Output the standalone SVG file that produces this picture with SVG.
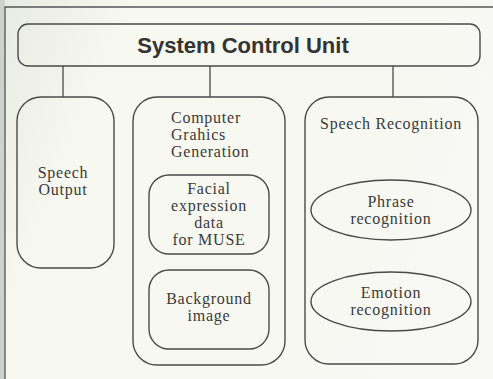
<svg xmlns="http://www.w3.org/2000/svg" width="493" height="379" viewBox="0 0 493 379">
  <defs>
    <linearGradient id="paper" x1="0" y1="0" x2="1" y2="0.3">
      <stop offset="0" stop-color="#e8ebe4"/>
      <stop offset="0.25" stop-color="#f7f8ef"/>
      <stop offset="1" stop-color="#f8f8f4"/>
    </linearGradient>
    <style>
      .box { fill: none; stroke: #4a4a48; stroke-width: 1.4; }
      .frame { fill: none; stroke: #555; stroke-width: 1.3; }
      .link { stroke: #4a4a48; stroke-width: 1.3; fill: none; }
      .title { font-family: "Liberation Sans", Arial, sans-serif; font-weight: bold; font-size: 22px; fill: #333; text-anchor: middle; }
      .lbl { font-family: "Liberation Serif", "Times New Roman", serif; font-size: 16px; letter-spacing: 0.75px; fill: #3a3a3a; text-anchor: middle; }
      .left { text-anchor: start; }
    </style>
  </defs>

  <!-- page -->
  <rect width="493" height="379" fill="url(#paper)"/>
  <rect x="0" y="0" width="5" height="379" fill="#cfd2cb"/>
  <path class="frame" d="M5 379 V7 H493"/>

  <!-- connectors -->
  <g id="connectors">
    <line class="link" x1="63" y1="66" x2="63" y2="97"/>
    <line class="link" x1="210" y1="66" x2="210" y2="97"/>
    <line class="link" x1="393" y1="66" x2="393" y2="97"/>
  </g>

  <g id="system-control-unit">
    <rect class="box" x="18" y="24" width="462" height="42" rx="10"/>
    <text class="title" x="243" y="53">System Control Unit</text>
  </g>

  <g id="speech-output">
    <rect class="box" x="17" y="97" width="97" height="171" rx="24"/>
    <text class="lbl" x="63" y="178">Speech</text>
    <text class="lbl" x="63" y="195">Output</text>
  </g>

  <g id="cg-generation">
    <rect class="box" x="133" y="97" width="152" height="268" rx="24"/>
    <text class="lbl left" x="171" y="123">Computer</text>
    <text class="lbl left" x="171" y="140">Grahics</text>
    <text class="lbl left" x="171" y="157">Generation</text>
  </g>

  <g id="facial-expression">
    <rect class="box" x="149" y="175" width="120" height="79" rx="20"/>
    <text class="lbl" x="209" y="194">Facial</text>
    <text class="lbl" x="209" y="211">expression</text>
    <text class="lbl" x="209" y="228">data</text>
    <text class="lbl" x="209" y="245">for MUSE</text>
  </g>

  <g id="background-image">
    <rect class="box" x="149" y="270" width="120" height="79" rx="20"/>
    <text class="lbl" x="209" y="304">Background</text>
    <text class="lbl" x="209" y="321">image</text>
  </g>

  <g id="speech-recognition">
    <rect class="box" x="305" y="97" width="173" height="267" rx="24"/>
    <text class="lbl" x="391" y="129">Speech Recognition</text>
  </g>

  <g id="phrase-recognition">
    <ellipse class="box" cx="391" cy="210" rx="80" ry="30"/>
    <text class="lbl" x="391" y="207">Phrase</text>
    <text class="lbl" x="391" y="224">recognition</text>
  </g>

  <g id="emotion-recognition">
    <ellipse class="box" cx="391" cy="301.5" rx="80" ry="29.5"/>
    <text class="lbl" x="391" y="298">Emotion</text>
    <text class="lbl" x="391" y="315">recognition</text>
  </g>
</svg>
